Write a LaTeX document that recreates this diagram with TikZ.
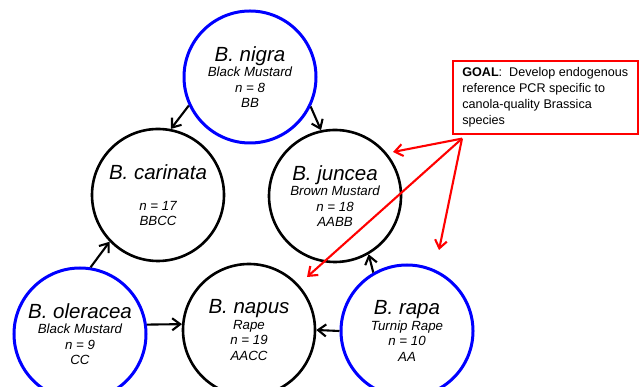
\documentclass[tikz,border=0pt]{standalone}
\usepackage{fontspec}
\setmainfont{Liberation Sans}
\usetikzlibrary{arrows.meta,positioning}
\definecolor{wild}{HTML}{0000FF}
\definecolor{hybrid}{HTML}{000000}
\definecolor{goalred}{HTML}{FF0000}
\newcommand{\spname}[1]{{\fontsize{20.5}{22}\selectfont #1}}

\begin{document}
\begin{tikzpicture}[x=1pt, y=1pt, every node/.style={font=\fontsize{13.3}{15.5}\selectfont\itshape},
      genome/.style={circle, draw=hybrid, minimum size=132pt, inner sep=0pt, align=center, line width=2.6pt},
      diploid/.style={genome, draw=wild, line width=3pt},
      goalbox/.style={draw=goalred, line width=1.6pt, font=\fontsize{12.6}{16}\selectfont, align=left, inner xsep=7.5pt, minimum width=185pt, minimum height=73pt},
      arr/.style={-{Straight Barb[length=8pt,width=12pt]}, draw=hybrid, line width=2.1pt},
      goalarr/.style={arr, draw=goalred}]
    \useasboundingbox (0,0) rectangle (639,387);
    \node[diploid] (nigra) at (250,310) {\spname{B. nigra}\\ Black Mustard\\ n = 8\\ BB};
    \node[genome] (carinata) at (158,192) {\spname{B. carinata}\\ \\ n = 17\\ BBCC};
    \node[genome] (juncea) at (335,191) {\spname{B. juncea}\\ Brown Mustard\\ n = 18\\ AABB};
    \node[diploid] (oleracea) at (80,53) {\spname{B. oleracea}\\ Black Mustard\\ n = 9\\ CC};
    \node[genome] (napus) at (249,57) {\spname{B. napus}\\ Rape\\ n = 19\\ AACC};
    \node[diploid] (rapa) at (407,56) {\spname{B. rapa}\\ Turnip Rape\\ n = 10\\ AA};
    \node[goalbox, anchor=north west] (goal) at (452,327) {\textbf{GOAL}:\ \ Develop endogenous\\ reference PCR specific to\\ canola-quality Brassica\\ species};
    \draw[arr] (nigra.205) -- (carinata.79); \draw[arr] (nigra.334) -- (juncea.102);
    \draw[arr] (oleracea.81) -- (carinata.224); \draw[arr] (oleracea.8) -- (napus.175);
    \draw[arr] (rapa.180) -- (napus.0); \draw[arr] (rapa.120) -- (juncea.300);
    % goal points at the canola-quality species
    \coordinate (src) at ([xshift=10pt,yshift=-4pt]goal.south west);
    \coordinate (tipJ) at (393,235); \coordinate (tipN) at (307,110); \coordinate (tipR) at (439,137);
    \draw[goalarr] (src) -- (tipJ); \draw[goalarr] (src) -- (tipN); \draw[goalarr] (src) -- (tipR);
  \end{tikzpicture}
\end{document}
